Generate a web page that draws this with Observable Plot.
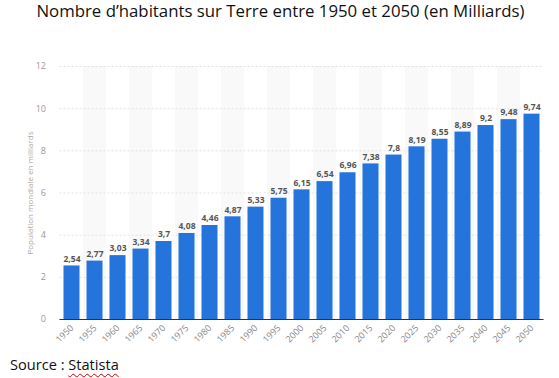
<!DOCTYPE html>
<html><head><meta charset="utf-8">
<script src="https://cdn.jsdelivr.net/npm/d3@7"></script>
<script src="https://cdn.jsdelivr.net/npm/@observablehq/plot@0.6"></script>
<style>
body{margin:0;background:#fff;width:559px;height:378px;overflow:hidden;}
#title{height:32px;line-height:22px;text-align:center;font-family:"Open Sans",sans-serif;font-size:16.8px;color:#111;padding-left:2px;}
#cap{font-family:"Open Sans",sans-serif;font-size:14.6px;color:#111;padding-left:10px;margin-top:2px;}
#cap span{text-decoration:underline wavy #c00;text-decoration-thickness:1px;text-underline-offset:3px;}
svg{display:block;}
</style></head><body>
<div id="title">Nombre d’habitants sur Terre entre 1950 et 2050 (en Milliards)</div>
<div id="chart"></div>
<div id="cap">Source : <span>Statista</span></div>
<script>
const years = ["1950","1955","1960","1965","1970","1975","1980","1985","1990","1995","2000","2005","2010","2015","2020","2025","2030","2035","2040","2045","2050"];
const population = [2.54,2.77,3.03,3.34,3.7,4.08,4.46,4.87,5.33,5.75,6.15,6.54,6.96,7.38,7.8,8.19,8.55,8.89,9.2,9.48,9.74];
const yTicks = [0,2,4,6,8,10,12];
const yLabel = "Population mondiale en milliards";

const data = years.map((y,i)=>({year:y, value:population[i], i}));
const bands = data.filter(d=>d.i%2===1);
const fmt = v => String(v).replace(".", ",");

const chart = Plot.plot({
  width:559, height:320,
  marginLeft:59.5, marginRight:15.5, marginTop:34, marginBottom:33,
  style:{fontFamily:"'Open Sans', sans-serif", background:"#fff"},
  x:{type:"band", domain:years, padding:0},
  y:{domain:[0,12]},
  marks:[
    Plot.barY(bands,{x:"year", y1:0, y2:12, fill:"#f9f9f9"}),
    Plot.gridY(yTicks,{stroke:"#dcdcdc", strokeOpacity:1, strokeDasharray:"2,2", strokeWidth:0.8}),
    Plot.barY(data,{x:"year", y:"value", fill:"#2574dc", insetLeft:3.5, insetRight:3.5}),
    Plot.text(data,{x:"year", y:"value", text:d=>fmt(d.value), dy:-7, fontSize:8.5, fontWeight:"bold", fill:"#555"}),
    Plot.ruleY([0],{stroke:"#333", strokeWidth:1.2}),
    Plot.axisY({ticks:yTicks, tickSize:0, tickPadding:14, fontSize:9, color:"#999", label:yLabel, labelAnchor:"center", labelArrow:"none", labelOffset:33}),
    Plot.axisX({tickSize:0, tickRotate:-45, tickPadding:7, fontSize:9, color:"#888", label:null})
  ]
});
d3.select(chart).selectAll("[aria-label='y-axis label'] text").attr("font-size",8).attr("fill","#aaa");
document.getElementById("chart").append(chart);
</script>
</body></html>
